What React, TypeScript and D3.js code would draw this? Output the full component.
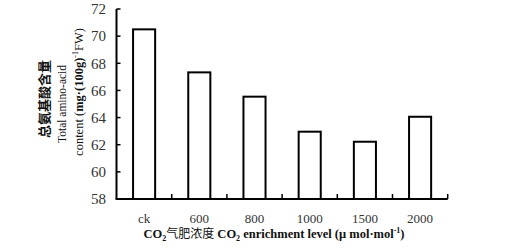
import React from "react";
import * as d3 from "d3";

const categories = ["ck", "600", "800", "1000", "1500", "2000"];
const values = [70.5, 67.33, 65.54, 62.96, 62.22, 64.06];
const yTicks = [58, 60, 62, 64, 66, 68, 70, 72];

const W = 522;
const H = 252;
const serif = "'Liberation Serif', 'Times New Roman', serif";
const cjk = "'Noto Sans CJK SC', sans-serif";

export default function App() {
  const x = d3.scaleBand<string>().domain(categories).range([116.5, 447.7]).paddingInner(0.6).paddingOuter(0.3);
  const y = d3.scaleLinear().domain([58, 72]).range([199, 9]);
  const step = x.step();
  const x0 = 116.5;
  const x1 = 447.7;
  const boundaries = categories.map((_, i) => x0 + step * (i + 1));

  return (
    <svg width={W} height={H} style={{ position: "absolute", left: 0, top: 0, background: "#fff" }}>
      <rect x={0} y={0} width={W} height={H} fill="#fff" />
      {/* bars */}
      {categories.map((c, i) => (
        <rect
          key={c}
          x={x(c)}
          y={y(values[i])}
          width={x.bandwidth()}
          height={y(58) - y(values[i])}
          fill="#fff"
          stroke="#000"
          strokeWidth={2}
        />
      ))}
      {/* y axis */}
      <line x1={x0} x2={x0} y1={y(72)} y2={y(58)} stroke="#000" strokeWidth={2} />
      {yTicks.map((t) => (
        <g key={t}>
          <line x1={x0} x2={x0 + 4} y1={y(t)} y2={y(t)} stroke="#000" strokeWidth={1.5} />
          <text x={106} y={y(t)} dy="0.35em" textAnchor="end" fontFamily={serif} fontSize={15} fill="#333">
            {t}
          </text>
        </g>
      ))}
      {/* x axis */}
      <line x1={x0 - 1} x2={x1} y1={y(58)} y2={y(58)} stroke="#000" strokeWidth={2} />
      {boundaries.map((bx, i) => (
        <line key={i} x1={bx} x2={bx} y1={y(58)} y2={y(58) - 5} stroke="#000" strokeWidth={1.5} />
      ))}
      {categories.map((c) => (
        <text
          key={c}
          x={(x(c) as number) + x.bandwidth() / 2}
          y={222.5}
          textAnchor="middle"
          fontFamily={serif}
          fontSize={13}
          fill="#333"
        >
          {c}
        </text>
      ))}
      {/* x title */}
      <text x={274} y={238} textAnchor="middle" fontFamily={serif} fontSize={12.5} fill="#111" fontWeight="bold">
        <tspan>CO</tspan>
        <tspan fontSize={8} dy={3}>2</tspan>
        <tspan dy={-3} fontFamily={cjk} fontWeight="normal" fontSize={12}>
          {"气肥浓度"}
        </tspan>
        <tspan> CO</tspan>
        <tspan fontSize={8} dy={3}>2</tspan>
        <tspan dy={-3}> enrichment level (μ mol·mol</tspan>
        <tspan fontSize={8} dy={-5}>-1</tspan>
        <tspan dy={5}>)</tspan>
      </text>
      {/* y title */}
      <text
        transform="translate(49,99) rotate(-90)"
        textAnchor="middle"
        fontFamily={cjk}
        fontWeight="bold"
        fontSize={13}
        fill="#111"
      >
        {"总氨基酸含量"}
      </text>
      <text
        transform="translate(66,104) rotate(-90)"
        textAnchor="middle"
        fontFamily={serif}
        fontSize={11.5}
        fill="#111"
      >
        Total amino-acid
      </text>
      <text
        transform="translate(82.5,92) rotate(-90)"
        textAnchor="middle"
        fontFamily={serif}
        fontSize={12.5}
        fill="#111"
      >
        <tspan>content (</tspan>
        <tspan fontWeight="bold">mg·(100g)</tspan>
        <tspan fontSize={8} dy={-5}>-1</tspan>
        <tspan dy={5}>FW)</tspan>
      </text>
    </svg>
  );
}
